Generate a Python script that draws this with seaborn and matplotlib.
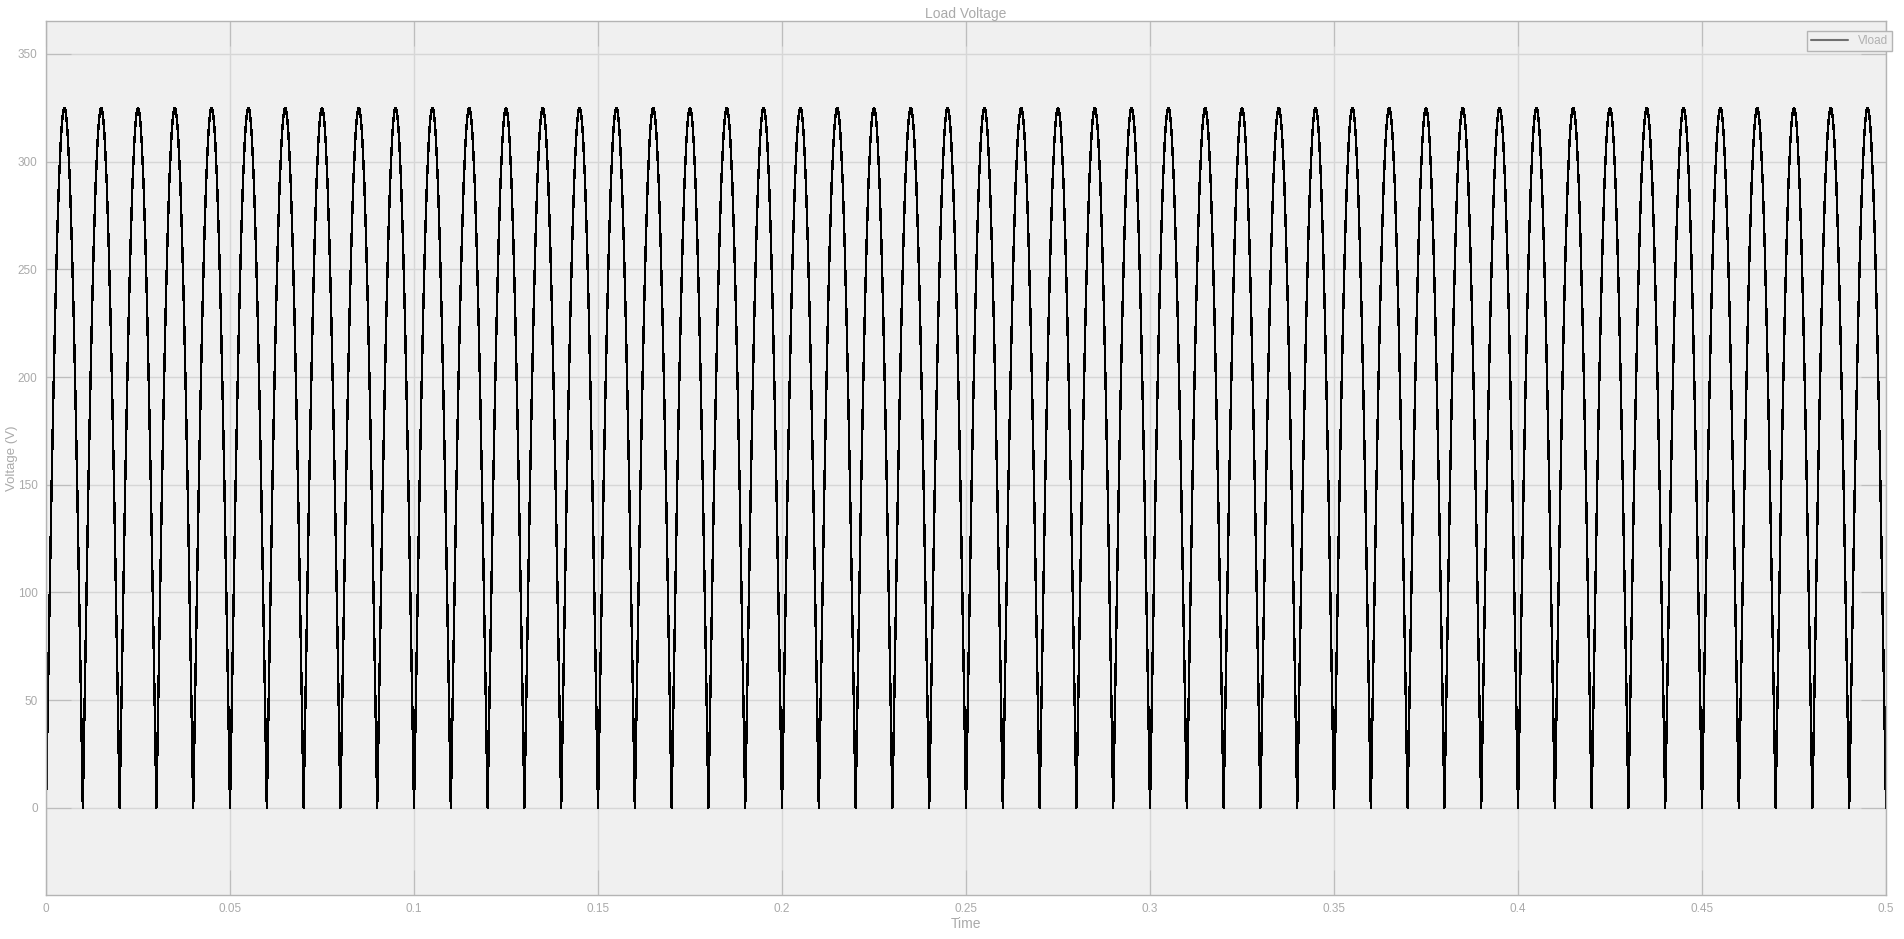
import pandas as pd
import seaborn as sns
import matplotlib.pyplot as plt

hump_volts = [0, 25, 51, 76, 100, 124, 148, 170, 191, 211,
              230, 247, 263, 277, 290, 300, 309, 316, 321, 324,
              325, 324, 321, 316, 309, 300, 290, 277, 263, 247,
              230, 211, 191, 170, 148, 124, 100, 76, 51, 25]
n_humps = 50
sample_step = 0.00025

volts = hump_volts * n_humps + [0]
times = [i * sample_step for i in range(len(volts))]

df = pd.DataFrame({"Time": times, "Vload": volts})

x_ticks = [0, 0.05, 0.1, 0.15, 0.2, 0.25, 0.3, 0.35, 0.4, 0.45, 0.5]
x_labels = ["0", "0.05", "0.1", "0.15", "0.2", "0.25", "0.3", "0.35", "0.4", "0.45", "0.5"]
y_ticks = [0, 50, 100, 150, 200, 250, 300, 350]

sns.set_style("whitegrid", {"axes.facecolor": "#f0f0f0", "grid.color": "#d6d6d6",
                            "axes.edgecolor": "#b4b4b4"})
plt.rcParams["font.family"] = ["Liberation Sans", "DejaVu Sans"]

fig = plt.figure(figsize=(19.04, 9.39), dpi=100)
ax = fig.add_axes([46 / 1904, 1 - 895 / 939, 1840 / 1904, 874 / 939])

sns.lineplot(data=df, x="Time", y="Vload", ax=ax, color="black", linewidth=1.0,
             estimator=None, sort=False, label="Vload", antialiased=False)

ax.set_xlim(0, 0.5)
ax.set_ylim(-40.5, 365.3)
ax.set_xticks(x_ticks)
ax.set_xticklabels(x_labels)
ax.set_yticks(y_ticks)
ax.grid(True, color="#d6d6d6", linewidth=1)
ax.tick_params(direction="in", length=18, width=0.8, color="#bdbdbd",
               labelcolor="#aaaaaa", labelsize=8.5, top=True, right=True,
               bottom=True, left=True, pad=6)
for sp in ax.spines.values():
    sp.set_color("#b4b4b4")
    sp.set_linewidth(1)

ax.set_title("Load Voltage", color="#aaaaaa", fontsize=10, pad=2)
ax.set_xlabel("Time", color="#aaaaaa", fontsize=10, labelpad=1)
ax.set_ylabel("Voltage (V)", color="#aaaaaa", fontsize=9.5)
ax.yaxis.set_label_coords(-0.0150, 0.5)

leg = ax.legend(loc="upper right", bbox_to_anchor=(1.003, 0.988), fontsize=8.5,
                frameon=True, fancybox=False, facecolor="#f0f0f0", edgecolor="#b4b4b4",
                handlelength=3.2, borderaxespad=0, borderpad=0.3, framealpha=1)
for line in leg.get_lines():
    line.set_color("#707070")
    line.set_linewidth(1.5)
for t in leg.get_texts():
    t.set_color("#b0b0b0")

fig.savefig("out.png", dpi=100)
